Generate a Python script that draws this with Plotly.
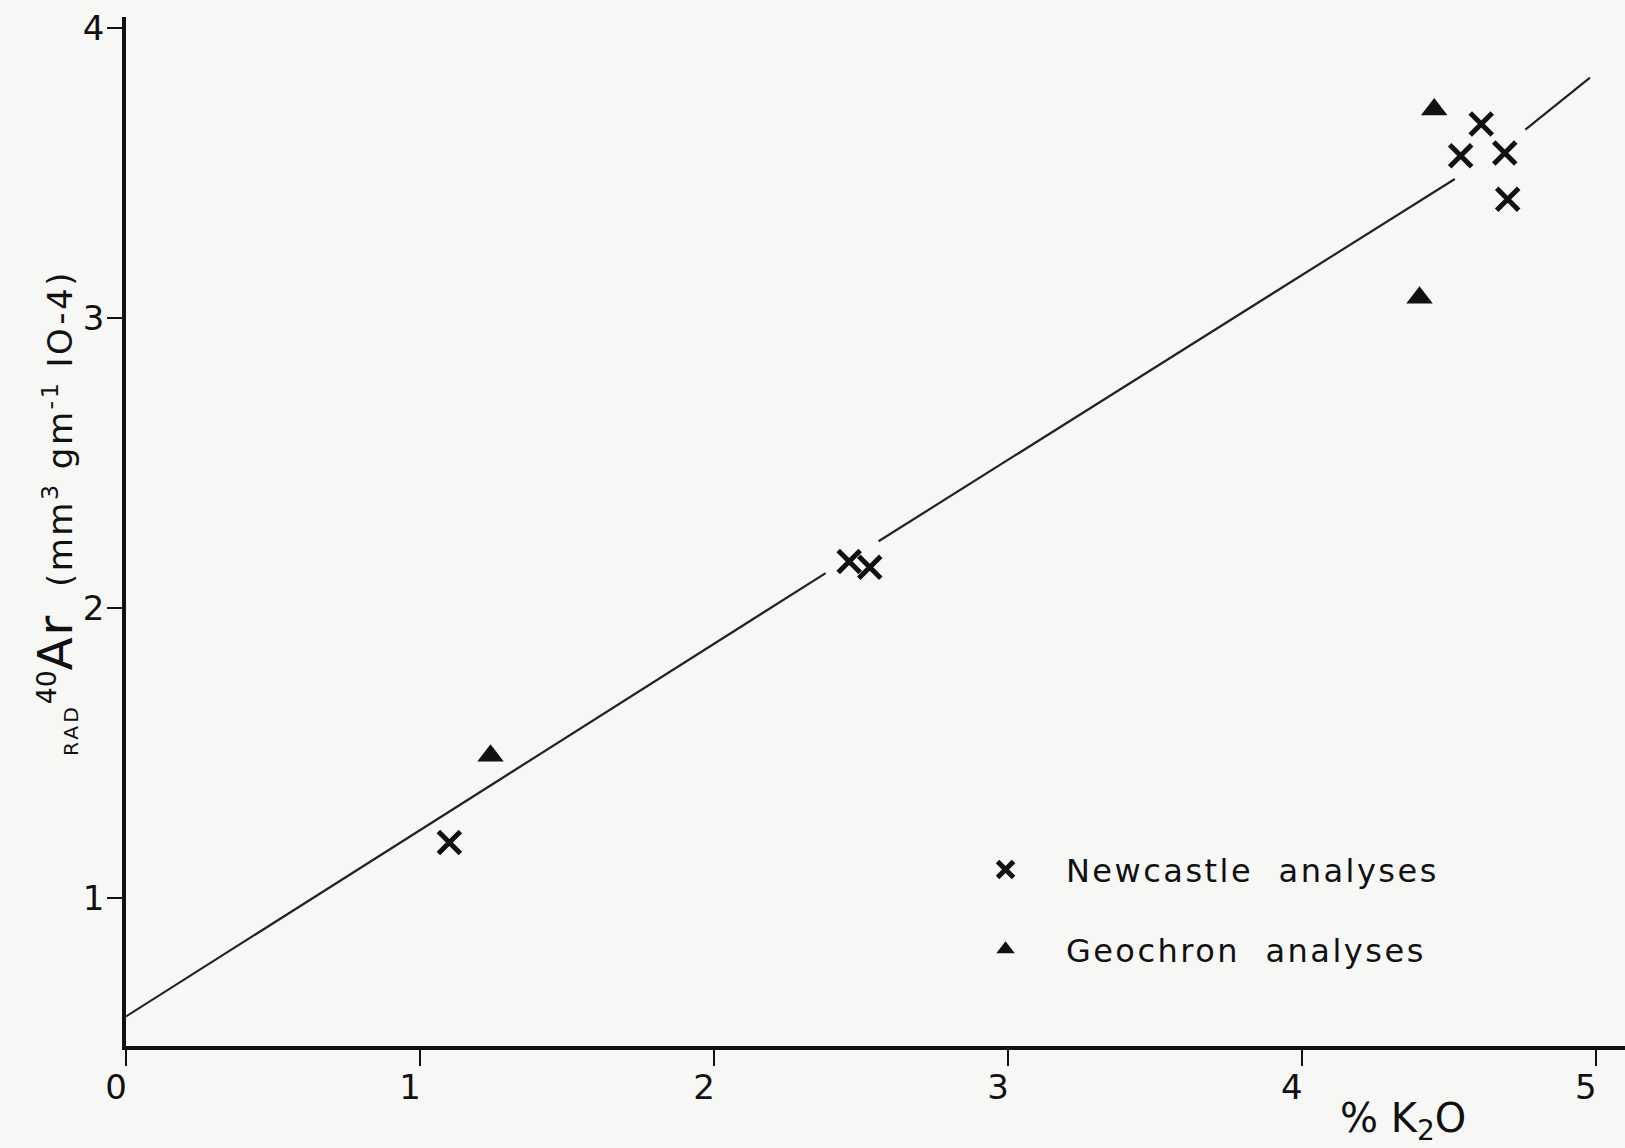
import plotly.graph_objects as go

# % K2O and radiogenic 40Ar for each analysis
newcastle_k2o = [1.10, 2.46, 2.53, 4.54, 4.61, 4.69, 4.70]
newcastle_ar = [1.19, 2.16, 2.14, 3.56, 3.67, 3.57, 3.41]

geochron_k2o = [1.24, 4.40, 4.45]
geochron_ar = [1.49, 3.07, 3.72]

# fitted line, broken where it passes through the clusters of points
fit_k2o = [0.0, 2.38, None, 2.56, 4.52, None, 4.76, 4.98]
fit_ar = [0.59, 2.12, None, 2.23, 3.48, None, 3.65, 3.83]

x_ticks = [0, 1, 2, 3, 4, 5]
y_ticks = [1, 2, 3, 4]

FONT = "DejaVu Sans, Liberation Sans, Arial, sans-serif"
INK = "#111111"
PAPER = "#f7f7f5"


def spaced(label, px):
    return f'<span style="letter-spacing:{px}px">{label}</span>'


fig = go.Figure()

fig.add_trace(go.Scatter(
    x=fit_k2o, y=fit_ar, mode="lines", connectgaps=False,
    line=dict(color="#222222", width=2.2), showlegend=False, hoverinfo="skip",
))

fig.add_trace(go.Scatter(
    x=newcastle_k2o, y=newcastle_ar, mode="markers",
    name=spaced("\u00a0\u00a0Newcastle\u00a0\u00a0analyses", 2.5), legendgroup="n",
    marker=dict(symbol="x-thin", size=22, color=INK,
                line=dict(color=INK, width=5)),
))

fig.add_trace(go.Scatter(
    x=geochron_k2o, y=geochron_ar, mode="markers",
    name=spaced("\u00a0\u00a0Geochron\u00a0\u00a0analyses", 2.5), legendgroup="g",
    marker=dict(symbol="triangle-up", size=23, color=INK,
                line=dict(color=INK, width=0)),
))

fig.update_layout(
    width=1625, height=1148,
    margin=dict(l=126, r=0, t=17, b=102),
    paper_bgcolor=PAPER, plot_bgcolor=PAPER,
    font=dict(family=FONT, color=INK),
    showlegend=True,
    legend=dict(
        x=0.5634, y=0.198, xanchor="left", yanchor="top",
        bgcolor="rgba(0,0,0,0)", borderwidth=0,
        font=dict(size=32, family=FONT, color=INK),
        tracegroupgap=35, itemwidth=60,
    ),
    xaxis=dict(
        range=[0, 5.099], tickvals=x_ticks, ticktext=[str(v) for v in x_ticks],
        showgrid=False, zeroline=False,
        showline=True, linecolor=INK, linewidth=4,
        ticks="outside", ticklen=16, tickwidth=2, tickcolor=INK,
        tickfont=dict(size=34, family=FONT, color=INK),
        ticklabelshift=-10, ticklabelstandoff=-8,
    ),
    yaxis=dict(
        range=[0.488, 4.039], tickvals=y_ticks, ticktext=[str(v) for v in y_ticks],
        showgrid=False, zeroline=False,
        showline=True, linecolor=INK, linewidth=3.5,
        ticks="outside", ticklen=15, tickwidth=2, tickcolor=INK,
        tickfont=dict(size=34, family=FONT, color=INK),
        ticklabelstandoff=-4,
    ),
)

# axis titles
fig.add_annotation(
    xref="paper", yref="paper", x=0.852, y=-0.073,
    xanchor="center", yanchor="middle", showarrow=False,
    text="%\u00a0K<sub>2</sub>O",
    font=dict(size=40, family=FONT, color=INK),
)
fig.add_annotation(
    xref="paper", yref="paper", x=-0.0474, y=0.518,
    xanchor="center", yanchor="middle", showarrow=False, textangle=-90,
    text=('<span style="font-size:29px;letter-spacing:3px"><sub>RAD</sub></span>'
          '<span style="font-size:38px"><sup>40</sup></span>'
          '<span style="font-size:48px;letter-spacing:2px">Ar</span>'
          '<span style="letter-spacing:2.5px">\u00a0\u00a0(mm<sup>3</sup> gm<sup>-1</sup> IO-4)</span>'),
    font=dict(size=34, family=FONT, color=INK),
)

fig.write_html("out.html")
